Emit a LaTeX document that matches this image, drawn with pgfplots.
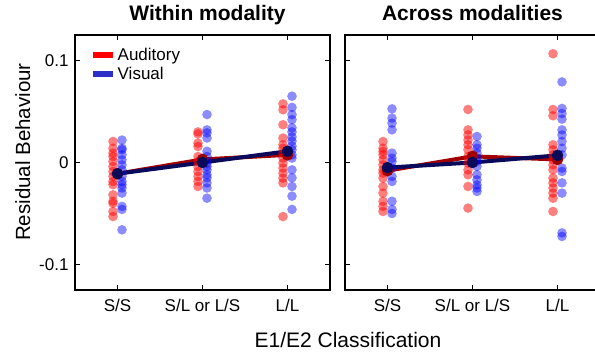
\documentclass[border=0pt]{standalone}
\usepackage{pgfplots}
\pgfplotsset{compat=1.18}
\usepackage{fontspec}
\setmainfont{Liberation Sans}
\definecolor{meanred}{RGB}{160,0,0}
\definecolor{meanblue}{RGB}{10,10,90}
\definecolor{legblue}{RGB}{45,45,200}
\pgfplotsset{
  panel/.style={
    scale only axis, width=255pt, height=255pt,
    xmin=0.5, xmax=3.5, ymin=-0.125, ymax=0.125,
    xtick={1,2,3}, xticklabels={S/S,S/L or L/S,L/L},
    ytick={-0.1,0,0.1},
    tick align=inside, major tick length=5pt,
    axis line style={line width=1.4pt},
    every tick/.style={line width=1.2pt, black},
    /pgf/number format/assume math mode=true,
    tick label style={font=\fontsize{17}{20}\selectfont},
    xticklabel style={anchor=base, yshift=-22pt},
    yticklabel style={xshift=-3pt},
    title style={at={(axis description cs:0.5,1)}, anchor=base, yshift=8pt, font=\fontsize{21}{25}\selectfont\bfseries},
    clip=false,
  },
  rpts/.style={only marks, color=red, mark=*, mark size=4.8pt, mark options={draw opacity=0, fill=red, fill opacity=0.5}, forget plot},
  bpts/.style={only marks, color=blue, mark=*, mark size=4.8pt, mark options={draw opacity=0, fill=blue, fill opacity=0.45}, forget plot},
  rmean/.style={meanred, line width=4pt, mark=*, mark size=5.5pt, mark options={fill=meanred, draw=meanred, line width=0.5pt}, forget plot},
  bmean/.style={meanblue, line width=4pt, mark=*, mark size=5.5pt, mark options={fill=meanblue, draw=meanblue, line width=0.5pt}, forget plot},
}
\begin{document}
\begin{tikzpicture}[x=1pt,y=1pt]
\useasboundingbox (0,0) rectangle (595,353);
% ---------------- left panel
\begin{axis}[panel, at={(75pt,63pt)}, anchor=south west,
  title={Within modality}, title style={xshift=5pt},
  yticklabels={-0.1,0,0.1},
  ylabel={Residual Behaviour},
  ylabel style={at={(axis description cs:-0.176,0.541)}, anchor=base, font=\fontsize{20.5}{24}\selectfont},
  legend style={draw=none, fill=none, at={(axis description cs:0,1)}, anchor=north west, xshift=12pt, yshift=-9pt, font=\fontsize{17}{20}\selectfont, row sep=3pt, nodes={inner sep=1.5pt}},
  legend cell align=left,
  legend image code/.code={\draw[#1] (0pt,0pt) -- (20pt,0pt);},
]
\addplot[rpts] coordinates {
(0.947,0.0206)(0.947,0.014)(0.947,0.0092)(0.947,0.0059)(0.947,0.001)(0.947,-0.0039)(0.947,-0.0088)(0.947,-0.0137)(0.947,-0.0186)(0.947,-0.0218)(0.947,-0.0317)(0.947,-0.038)(0.947,-0.040)(0.947,-0.048)(0.947,-0.053)
(1.947,0.030)(1.947,0.028)(1.947,0.019)(1.947,0.0157)(1.947,0.0059)(1.947,0.001)(1.947,-0.0039)(1.947,-0.0088)(1.947,-0.0137)(1.947,-0.0186)(1.947,-0.0235)
(2.947,0.0575)(2.947,0.0517)(2.947,0.037)(2.947,0.024)(2.947,0.0174)(2.947,0.014)(2.947,0.0092)(2.947,0.0043)(2.947,-0.0006)(2.947,-0.0055)(2.947,-0.0104)(2.947,-0.0153)(2.947,-0.020)(2.947,-0.053)
};
\addplot[bpts] coordinates {
(1.053,0.022)(1.053,0.014)(1.053,0.0125)(1.053,0.0075)(1.053,0.0026)(1.053,-0.0023)(1.053,-0.0072)(1.053,-0.0137)(1.053,-0.0186)(1.053,-0.0218)(1.053,-0.025)(1.053,-0.030)(1.053,-0.043)(1.053,-0.046)(1.053,-0.066)
(2.053,0.047)(2.053,0.032)(2.053,0.029)(2.053,0.024)(2.053,0.011)(2.053,0.0059)(2.053,-0.0006)(2.053,-0.0039)(2.053,-0.0072)(2.053,-0.012)(2.053,-0.015)(2.053,-0.020)(2.053,-0.025)(2.053,-0.035)
(3.053,0.065)(3.053,0.054)(3.053,0.047)(3.053,0.042)(3.053,0.034)(3.053,0.030)(3.053,0.025)(3.053,0.021)(3.053,0.016)(3.053,0.0125)(3.053,0.0075)(3.053,0.0043)(3.053,-0.0072)(3.053,-0.015)(3.053,-0.0235)(3.053,-0.033)(3.053,-0.046)
};
\addplot[rmean] coordinates {(1,-0.011)(2,0.003)(3,0.0075)};
\addplot[bmean] coordinates {(1,-0.011)(2,0.000)(3,0.011)};
\addlegendimage{red, line width=6pt}
\addlegendentry{Auditory}
\addlegendimage{legblue, line width=6pt}
\addlegendentry{Visual}
\end{axis}
% ---------------- right panel
\begin{axis}[panel, at={(345pt,63pt)}, anchor=south west,
  title={Across modalities},
  yticklabels={},
]
\addplot[rpts] coordinates {
(0.947,0.0206)(0.947,0.014)(0.947,0.0108)(0.947,0.0075)(0.947,0.0026)(0.947,-0.0023)(0.947,-0.0072)(0.947,-0.0104)(0.947,-0.0153)(0.947,-0.0235)(0.947,-0.030)(0.947,-0.038)(0.947,-0.043)(0.947,-0.048)
(1.947,0.052)(1.947,0.032)(1.947,0.027)(1.947,0.022)(1.947,0.0174)(1.947,0.0125)(1.947,0.0059)(1.947,-0.0006)(1.947,-0.0072)(1.947,-0.012)(1.947,-0.0235)(1.947,-0.0447)
(2.947,0.1066)(2.947,0.052)(2.947,0.0458)(2.947,0.0174)(2.947,0.0125)(2.947,0.0075)(2.947,0.0026)(2.947,-0.0023)(2.947,-0.0072)(2.947,-0.0153)(2.947,-0.020)(2.947,-0.025)(2.947,-0.030)(2.947,-0.035)(2.947,-0.048)
};
\addplot[bpts] coordinates {
(1.053,0.0526)(1.053,0.0435)(1.053,0.0386)(1.053,0.032)(1.053,0.0092)(1.053,0.0043)(1.053,0.001)(1.053,-0.0055)(1.053,-0.0137)(1.053,-0.0186)(1.053,-0.038)(1.053,-0.046)(1.053,-0.050)
(2.053,0.0255)(2.053,0.0174)(2.053,0.014)(2.053,0.0092)(2.053,0.0043)(2.053,0.001)(2.053,-0.0039)(2.053,-0.012)(2.053,-0.017)(2.053,-0.022)(2.053,-0.025)(2.053,-0.0284)
(3.053,0.079)(3.053,0.053)(3.053,0.048)(3.053,0.0425)(3.053,0.032)(3.053,0.027)(3.053,0.0206)(3.053,0.014)(3.053,0.0075)(3.053,-0.0055)(3.053,-0.0088)(3.053,-0.020)(3.053,-0.030)(3.053,-0.069)(3.053,-0.0725)
};
\addplot[rmean] coordinates {(1,-0.008)(2,0.006)(3,0.003)};
\addplot[bmean] coordinates {(1,-0.005)(2,0.000)(3,0.007)};
\end{axis}
\node[anchor=base, font=\fontsize{21}{25}\selectfont] at (348,5) {E1/E2 Classification};
\end{tikzpicture}
\end{document}
